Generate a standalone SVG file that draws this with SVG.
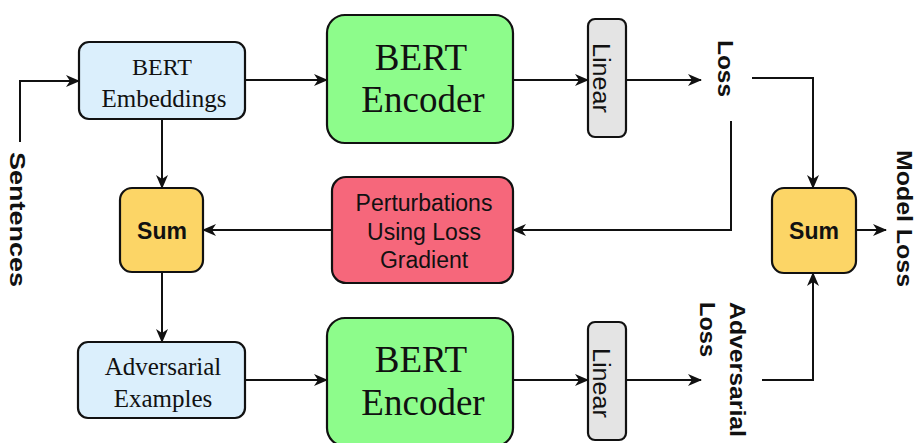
<svg xmlns="http://www.w3.org/2000/svg" width="917" height="443" viewBox="0 0 917 443">
<style>
.box{stroke:#111;stroke-width:2.2}
.blue{fill:#dbeffc}
.green{fill:#8dfc8b}
.gray{fill:#e4e4e4}
.yellow{fill:#fcd566}
.pink{fill:#f6677b}
.serif{font-family:"Liberation Serif","Times New Roman",serif;fill:#111}
.sans{font-family:"Liberation Sans",Arial,sans-serif;fill:#111}
.bold{font-weight:bold}
.edge{fill:none;stroke:#111;stroke-width:2}
</style>
<defs>
<marker id="ah" markerWidth="14" markerHeight="12" refX="13" refY="6" orient="auto" markerUnits="userSpaceOnUse">
<path d="M0,0 L14,6 L0,12 L4,6 z" fill="#111"/>
</marker>
</defs>
<rect width="917" height="443" fill="#fff"/>

<g id="sentences">
<text class="sans bold" font-size="22" transform="translate(10,152) rotate(90)" textLength="135" lengthAdjust="spacingAndGlyphs">Sentences</text>
</g>

<g id="bert-embeddings">
<rect class="box blue" x="79" y="42" width="166" height="77" rx="10"/>
<text class="serif" font-size="24" x="162" y="75" text-anchor="middle">BERT</text>
<text class="serif" font-size="25" x="164" y="107" text-anchor="middle">Embeddings</text>
</g>

<g id="bert-encoder-top">
<rect class="box green" x="327" y="15" width="186" height="128" rx="18"/>
<text class="serif" font-size="37" x="421" y="70" text-anchor="middle">BERT</text>
<text class="serif" font-size="37" x="423" y="112" text-anchor="middle">Encoder</text>
</g>

<g id="linear-top">
<rect class="box gray" x="588" y="19" width="38" height="118" rx="7"/>
<text class="sans" font-size="23" transform="translate(593,43) rotate(90)" textLength="70" lengthAdjust="spacingAndGlyphs">Linear</text>
</g>

<g id="loss">
<text class="sans bold" font-size="22" transform="translate(718,40) rotate(90)" textLength="57" lengthAdjust="spacingAndGlyphs">Loss</text>
</g>

<g id="sum-left">
<rect class="box yellow" x="120" y="188" width="83" height="84" rx="12"/>
<text class="sans bold" font-size="23" x="162" y="239" text-anchor="middle">Sum</text>
</g>

<g id="perturbations">
<rect class="box pink" x="332" y="177" width="181" height="106" rx="14"/>
<text class="sans" font-size="23" x="424" y="211" text-anchor="middle">Perturbations</text>
<text class="sans" font-size="23" x="424" y="240" text-anchor="middle">Using Loss</text>
<text class="sans" font-size="23" x="424" y="268" text-anchor="middle">Gradient</text>
</g>

<g id="sum-right">
<rect class="box yellow" x="772" y="188" width="84" height="85" rx="12"/>
<text class="sans bold" font-size="23" x="814" y="239" text-anchor="middle">Sum</text>
</g>

<g id="model-loss">
<text class="sans bold" font-size="22" transform="translate(897,150) rotate(90)" textLength="137" lengthAdjust="spacingAndGlyphs">Model Loss</text>
</g>

<g id="adversarial-examples">
<rect class="box blue" x="78" y="342" width="167" height="76" rx="10"/>
<text class="serif" font-size="25" x="163" y="375" text-anchor="middle">Adversarial</text>
<text class="serif" font-size="25" x="163" y="407" text-anchor="middle">Examples</text>
</g>

<g id="bert-encoder-bottom">
<rect class="box green" x="327" y="318" width="186" height="128" rx="18"/>
<text class="serif" font-size="37" x="421" y="372" text-anchor="middle">BERT</text>
<text class="serif" font-size="37" x="423" y="415" text-anchor="middle">Encoder</text>
</g>

<g id="linear-bottom">
<rect class="box gray" x="588" y="322" width="38" height="118" rx="7"/>
<text class="sans" font-size="23" transform="translate(593,348) rotate(90)" textLength="70" lengthAdjust="spacingAndGlyphs">Linear</text>
</g>

<g id="adversarial-loss">
<text class="sans bold" font-size="22" transform="translate(730,302) rotate(90)" textLength="135" lengthAdjust="spacingAndGlyphs">Adversarial</text>
<text class="sans bold" font-size="22" transform="translate(700,302) rotate(90)" textLength="55" lengthAdjust="spacingAndGlyphs">Loss</text>
</g>

<g id="connectors">
<polyline class="edge" points="20,142 20,81 79,81" marker-end="url(#ah)"/>
<line class="edge" x1="245" y1="80" x2="327" y2="80" marker-end="url(#ah)"/>
<line class="edge" x1="513" y1="80" x2="588" y2="80" marker-end="url(#ah)"/>
<line class="edge" x1="626" y1="80" x2="701" y2="80" marker-end="url(#ah)"/>
<polyline class="edge" points="752,78 813,78 813,188" marker-end="url(#ah)"/>
<polyline class="edge" points="731,121 731,230 513,230" marker-end="url(#ah)"/>
<line class="edge" x1="332" y1="230" x2="203" y2="230" marker-end="url(#ah)"/>
<line class="edge" x1="162" y1="119" x2="162" y2="188" marker-end="url(#ah)"/>
<line class="edge" x1="162" y1="272" x2="162" y2="342" marker-end="url(#ah)"/>
<line class="edge" x1="245" y1="380" x2="327" y2="380" marker-end="url(#ah)"/>
<line class="edge" x1="513" y1="380" x2="588" y2="380" marker-end="url(#ah)"/>
<line class="edge" x1="626" y1="380" x2="701" y2="380" marker-end="url(#ah)"/>
<polyline class="edge" points="762,380 813,380 813,273" marker-end="url(#ah)"/>
<line class="edge" x1="856" y1="230" x2="886" y2="230" marker-end="url(#ah)"/>
</g>
</svg>
